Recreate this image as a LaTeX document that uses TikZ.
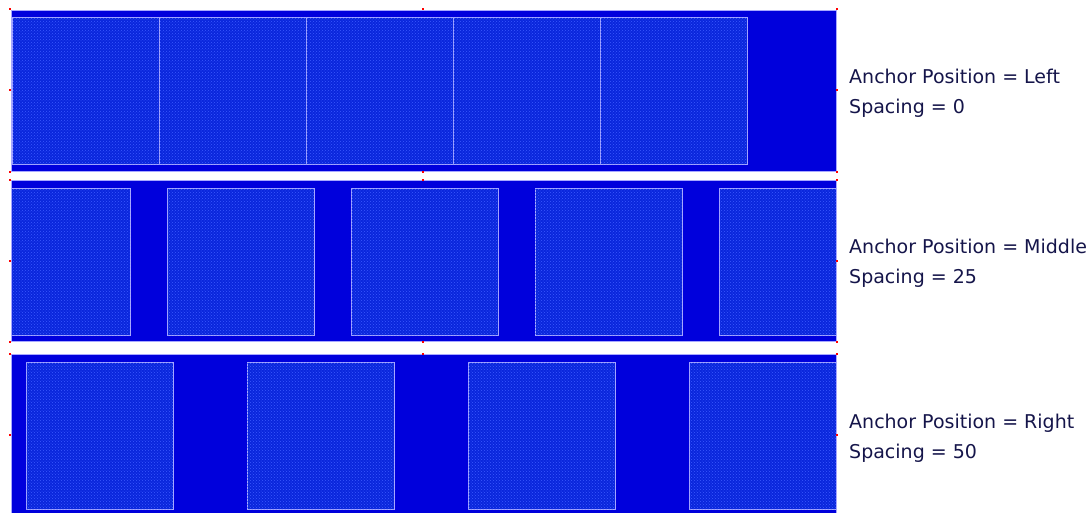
\documentclass[tikz,border=0pt]{standalone}
\usepackage{fontspec}
\setmainfont{DejaVu Sans}
\usetikzlibrary{patterns}
\definecolor{panelblue}{HTML}{0000DC}
\definecolor{sqblue}{HTML}{0A26DC}
\definecolor{edgeblue}{HTML}{A8A8FF}
\definecolor{dotblue}{HTML}{3A5AFF}
\definecolor{navy}{HTML}{15154A}
\begin{document}
\begin{tikzpicture}[x=1pt,y=-1pt,
  panel/.style={draw=edgeblue, fill=panelblue, line width=0.8pt, minimum width=825pt, minimum height=161pt, inner sep=0pt, outer sep=0pt},
  paneledge/.style={draw=edgeblue, fill=none, line width=0.8pt, minimum width=825pt, minimum height=161pt, inner sep=0pt, outer sep=0pt},
  tile/.style={draw=edgeblue, fill=sqblue, line width=1pt, minimum width=147pt, minimum height=147pt, inner sep=0pt, outer sep=0pt, postaction={pattern=crosshatch dots, pattern color=dotblue}},
  marker/.style={fill=red, draw=none, minimum size=2.2pt, inner sep=0pt, outer sep=0pt},
  captext/.style={anchor=west, font=\fontsize{19}{30}\selectfont, text=navy, align=left, inner sep=0pt}]
\useasboundingbox (0,0) rectangle (1092,512);
\path[clip] (0,0) rectangle (1092,512);

% panel 1
\node[panel] (p1) at (423.5,91) {};
\begin{scope}
\clip (p1.south west) rectangle (p1.north east);
\foreach \x [count=\i] in {85.5,232.5,379.5,526.5,673.5}
  \node[tile] (a\i) at (\x,91) {};
\end{scope}
\node[paneledge] (p1e) at (423.5,91) {};

% panel 2
\node[panel] (p2) at (423.5,261) {};
\begin{scope}
\clip (p2.south west) rectangle (p2.north east);
\foreach \x [count=\i] in {56.5,240.5,424.5,608.5,792.5}
  \node[tile] (b\i) at (\x,261.5) {};
\end{scope}
\node[paneledge] (p2e) at (423.5,261) {};

% panel 3
\node[panel] (p3) at (423.5,435) {};
\begin{scope}
\clip (p3.south west) rectangle (p3.north east);
\foreach \x [count=\i] in {99.5,320.5,541.5,762.5}
  \node[tile] (c\i) at (\x,435.5) {};
\end{scope}
\node[paneledge] (p3e) at (423.5,435) {};

% red markers
\foreach \y [count=\j] in {9,90,172,180,261,342,354,435}
  {\node[marker] (ml\j) at (10,\y) {};
   \node[marker] (mr\j) at (837,\y) {};}
\foreach \y [count=\j] in {9,172,180,342,354}
  \node[marker] (mm\j) at (423,\y) {};

% captions
\node[captext] (t1) at (849,93) {Anchor Position = Left\\Spacing = 0};
\node[captext] (t2) at (849,263) {Anchor Position = Middle\\Spacing = 25};
\node[captext] (t3) at (849,438) {Anchor Position = Right\\Spacing = 50};
\end{tikzpicture}
\end{document}
